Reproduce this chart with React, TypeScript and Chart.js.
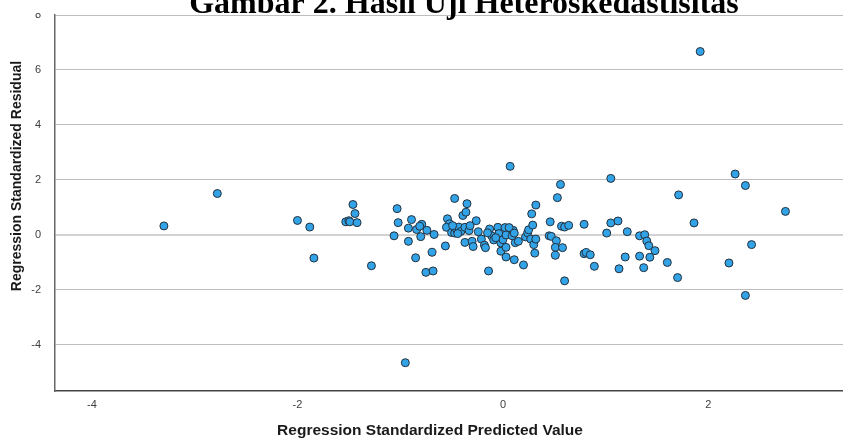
import { useEffect, useRef } from 'react';
import { Chart, registerables } from 'chart.js';

Chart.register(...registerables);

const chartTitle = 'Gambar 2. Hasil Uji Heteroskedastisitas';
const xAxisTitle = 'Regression Standardized Predicted Value';
const yAxisTitle = 'Regression Standardized Residual';

const xTickValues = [-4, -2, 0, 2];
const yTickValues = [-4, -2, 0, 2, 4, 6, 8];

const predictedValues = [
  -3.30, -2.78, -2.00, -1.88, -1.84, -1.46, -1.44, -1.53, -1.50, -1.49,
  -1.42, -1.28, -1.03, -1.02, -1.06, -0.92, -0.92, -0.89, -0.85, -0.84,
  -0.80, -0.79, -0.81, -0.74, -0.75, -0.68, -0.69, -0.67, -0.56, -0.54,
  -0.52, -0.55, -0.50, -0.47, -0.47, -0.45, -0.43, -0.41, -0.39, -0.36,
  -0.35, -0.37, -0.33, -0.37, -0.30, -0.29, -0.26, -0.21, -0.18, -0.17,
  -0.14, -0.13, -0.11, -0.09, -0.05, -0.04, -0.02, -0.02, 0.00, 0.02,
  0.03, 0.03, 0.03, 0.07, 0.10, 0.11, 0.12, 0.15, 0.20, 0.22,
  0.24, 0.25, 0.28, 0.29, 0.32, 0.27, 0.30, 0.32, 0.31, 0.46,
  0.45, 0.47, 0.52, 0.51, 0.51, 0.53, 0.56, 0.57, 0.60, 0.64,
  0.58, 0.60, 0.79, 0.79, 0.81, 0.85, 0.89, 1.01, 1.05, 1.05,
  1.12, 1.21, 1.19, 1.13, 1.33, 1.38, 1.40, 1.42, 1.48, 1.33,
  1.43, 1.60, 1.37, 1.70, 1.71, 1.86, 1.92, 2.20, 2.26, 2.36,
  2.42, 2.36, 2.75, -0.95, -0.49, -0.44, -0.32, -0.07, -0.15, 0.09,
  0.06, -0.24, 0.11,
];

const residualValues = [
  0.32, 1.50, 0.52, 0.28, -0.85, 1.10, 0.77, 0.47, 0.51, 0.47,
  0.44, -1.13, 0.95, 0.44, -0.04, 0.24, -0.24, 0.55, -0.84, 0.19,
  -0.07, 0.38, 0.31, 0.16, -1.37, -1.32, -0.64, 0.01, -0.41, 0.58,
  0.40, 0.27, 0.08, 1.32, 0.06, 0.18, 0.28, 0.12, 0.70, 0.82,
  1.13, 0.27, 0.15, -0.28, -0.24, -0.43, 0.51, -0.16, -0.38, -0.47,
  -1.32, 0.21, -0.04, -0.19, 0.27, 0.04, -0.60, -0.30, -0.18, 0.26,
  -0.01, -0.46, -0.81, 2.49, 0.16, -0.91, -0.29, -0.24, -1.10, -0.08,
  0.07, 0.18, 0.76, 0.35, 1.08, -0.16, -0.36, -0.16, -0.67, 0.47,
  -0.04, -0.06, -0.22, -0.46, -0.75, 1.35, 1.83, 0.31, 0.28, 0.34,
  -0.47, -1.68, 0.38, -0.69, -0.65, -0.73, -1.15, 0.06, 2.05, 0.43,
  0.50, 0.11, -0.81, -1.24, -0.04, 0.00, -0.23, -0.40, -0.58, -0.78,
  -0.82, -1.01, -1.20, -1.56, 1.45, 0.43, 6.67, -1.03, 2.21, 1.79,
  -0.36, -2.21, 0.85, -4.66, 0.33, 0.04, 0.33, -0.11, 0.07, -0.04,
  0.26, 0.11, 0.06,
];

const sansFamily = '"Liberation Sans", Arial, sans-serif';

export default function App() {
  const canvasRef = useRef<HTMLCanvasElement>(null);

  useEffect(() => {
    document.body.style.margin = '0';
    const canvas = canvasRef.current;
    if (!canvas) return;

    const points = predictedValues.map((x, i) => ({ x, y: residualValues[i] }));

    const titlesPlugin = {
      id: 'customTitles',
      afterDraw(chart: any) {
        const ctx = chart.ctx as CanvasRenderingContext2D;
        ctx.save();
        ctx.fillStyle = '#ffffff';
        ctx.fillRect(0, 0, chart.width, 13);
        ctx.fillStyle = '#000000';
        ctx.font = 'bold 32px "Liberation Serif", "Times New Roman", serif';
        ctx.textAlign = 'center';
        ctx.textBaseline = 'alphabetic';
        ctx.fillText(chartTitle, 464, 13);

        ctx.fillStyle = '#1a1a1a';
        ctx.textBaseline = 'middle';
        ctx.font = `bold 15.5px ${sansFamily}`;
        ctx.fillText(xAxisTitle, 430, 431);
        ctx.font = `bold 14px ${sansFamily}`;
        ctx.translate(17, 176);
        ctx.rotate(-Math.PI / 2);
        ctx.fillText(yAxisTitle, 0, 0);
        ctx.restore();
      },
    };

    const chart = new Chart(canvas, {
      type: 'scatter',
      data: {
        datasets: [
          {
            data: points,
            backgroundColor: '#33a3e8',
            borderColor: '#23303c',
            borderWidth: 1,
            pointRadius: 4,
          },
        ],
      },
      options: {
        animation: false,
        responsive: false,
        layout: { autoPadding: false, padding: { top: 15, left: 0, right: 0, bottom: 0 } },
        plugins: {
          legend: { display: false },
          tooltip: { enabled: false },
          title: { display: false },
        },
        scales: {
          x: {
            type: 'linear',
            min: -4.36,
            max: 3.31,
            afterBuildTicks: (axis: any) => {
              axis.ticks = xTickValues.map((v) => ({ value: v }));
            },
            afterFit: (axis: any) => {
              axis.height = 51;
            },
            grid: {
              drawOnChartArea: false,
              drawTicks: true,
              tickLength: 7,
              tickColor: 'rgba(0,0,0,0)',
            },
            border: { display: true, color: '#444444', width: 1.5 },
            ticks: {
              padding: 0,
              color: '#404040',
              font: { size: 11, family: sansFamily },
              callback: (v: any) => String(v),
            },
          },
          y: {
            type: 'linear',
            min: -5.69,
            max: 8,
            afterBuildTicks: (axis: any) => {
              axis.ticks = yTickValues.map((v) => ({ value: v }));
            },
            afterFit: (axis: any) => {
              axis.width = 55;
            },
            grid: {
              drawTicks: true,
              tickLength: 13,
              tickColor: 'rgba(0,0,0,0)',
              color: (c: any) => (c.tick && c.tick.value === 0 ? '#d2d2d2' : '#bdbdbd'),
              lineWidth: (c: any) => (c.tick && c.tick.value === 0 ? 2 : 1),
            },
            border: { display: true, color: '#666666', width: 1.5 },
            ticks: {
              padding: 1,
              color: '#404040',
              font: { size: 11, family: sansFamily },
              callback: (v: any) => String(v),
            },
          },
        },
      },
      plugins: [titlesPlugin],
    });

    return () => chart.destroy();
  }, []);

  return (
    <div style={{ width: 843, height: 442 }}>
      <canvas ref={canvasRef} width={843} height={442} />
    </div>
  );
}
